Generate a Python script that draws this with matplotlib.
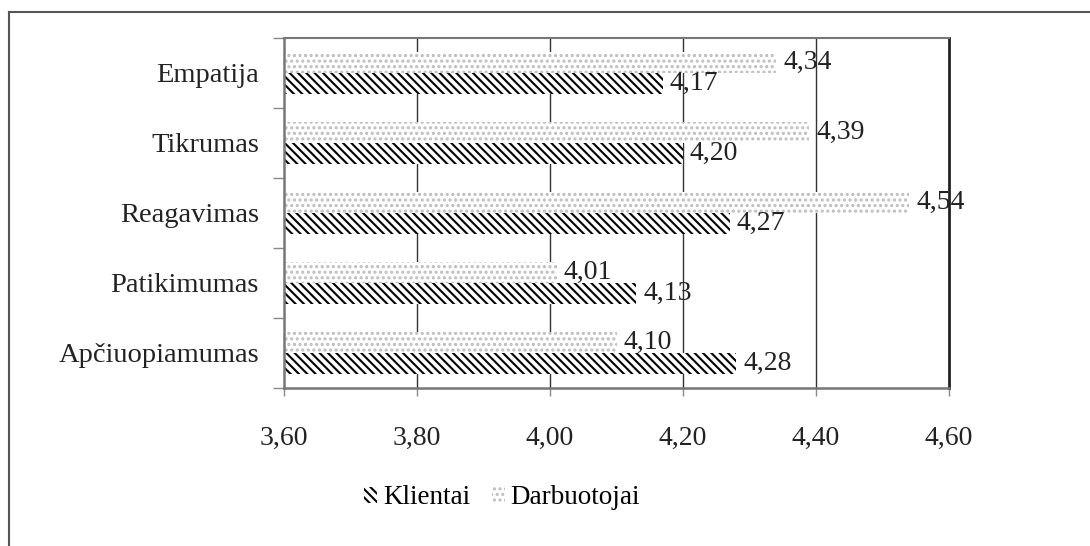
import matplotlib
matplotlib.use("Agg")
import matplotlib.pyplot as plt
from matplotlib.lines import Line2D
from matplotlib.patches import Patch
import numpy as np

categories = ["Apčiuopiamumas", "Patikimumas", "Reagavimas", "Tikrumas", "Empatija"]
klientai = [4.28, 4.13, 4.27, 4.20, 4.17]
darbuotojai = [4.10, 4.01, 4.54, 4.39, 4.34]
xticks = [3.60, 3.80, 4.00, 4.20, 4.40, 4.60]
series_names = ["Klientai", "Darbuotojai"]

plt.rcParams['font.family'] = ['Liberation Serif', 'DejaVu Serif']
plt.rcParams['hatch.linewidth'] = 1.5
FS = 20

fig = plt.figure(figsize=(10.9, 5.46), dpi=100)
ax = fig.add_axes([284/1090, 1-388/546, (949-284)/1090, (388-38)/546])

y = np.arange(len(categories))
h = 0.295
off = 0.15

ax.barh(y - off, klientai, height=h, left=0, color='white', edgecolor='black',
        hatch='\\\\\\\\', linewidth=0, zorder=3)
ax.barh(y + off, darbuotojai, height=h, left=0, color='white', edgecolor='#bdbdbd',
        hatch='...', linewidth=0, zorder=3)

def fmt(v):
    return f"{v:.2f}".replace('.', ',')

for yi, v in zip(y, klientai):
    ax.annotate(fmt(v), (v, yi - off), xytext=(5, 0), textcoords='offset points',
                va='center', ha='left', fontsize=FS, color='#222222', zorder=5)
for yi, v in zip(y, darbuotojai):
    ax.annotate(fmt(v), (v, yi + off), xytext=(5, 0), textcoords='offset points',
                va='center', ha='left', fontsize=FS, color='#222222', zorder=5)

ax.set_xlim(3.6, 4.6)
ax.set_ylim(-0.5, len(categories) - 0.5)
ax.set_xticks(xticks)
ax.set_xticklabels([fmt(t) for t in xticks], fontsize=FS, color='#222222')
ax.set_yticks(y)
ax.set_yticklabels(categories, fontsize=20.5, color='#222222')
ax.set_yticks(np.arange(-0.5, len(categories), 1.0), minor=True)
ax.tick_params(axis='y', which='major', length=0, pad=18)
ax.tick_params(axis='y', which='minor', length=8, color='#888888', width=1)
ax.tick_params(axis='x', which='major', length=6, color='#888888', width=1, pad=21)

for x in xticks[1:-1]:
    ax.axvline(x, color='#333333', linewidth=1.0, zorder=1)

for s in ['left', 'bottom']:
    ax.spines[s].set_color('#777777')
    ax.spines[s].set_linewidth(1.8)
ax.spines['top'].set_color('#777777')
ax.spines['top'].set_linewidth(1.5)
ax.spines['right'].set_color('#222222')
ax.spines['right'].set_linewidth(2.0)
for s in ax.spines.values():
    s.set_zorder(4)

# Legend
handles = [Patch(facecolor='white', edgecolor='black', hatch='\\\\\\\\', linewidth=0),
           Patch(facecolor='white', edgecolor='#bdbdbd', hatch='...', linewidth=0)]
fig.legend(handles, series_names, loc='center', bbox_to_anchor=(502/1090, 1-498/546),
           ncol=2, frameon=False, fontsize=19.5, handlelength=0.5, handleheight=0.5,
           handletextpad=0.2, columnspacing=0.8)

# Outer border (left and top visible)
fig.add_artist(Line2D([9/1090, 9/1090], [0, 1-12/546], transform=fig.transFigure,
                      color='#555555', linewidth=1.5))
fig.add_artist(Line2D([9/1090, 1], [1-12/546, 1-12/546], transform=fig.transFigure,
                      color='#555555', linewidth=1.5))

fig.savefig("out.png", dpi=100)
